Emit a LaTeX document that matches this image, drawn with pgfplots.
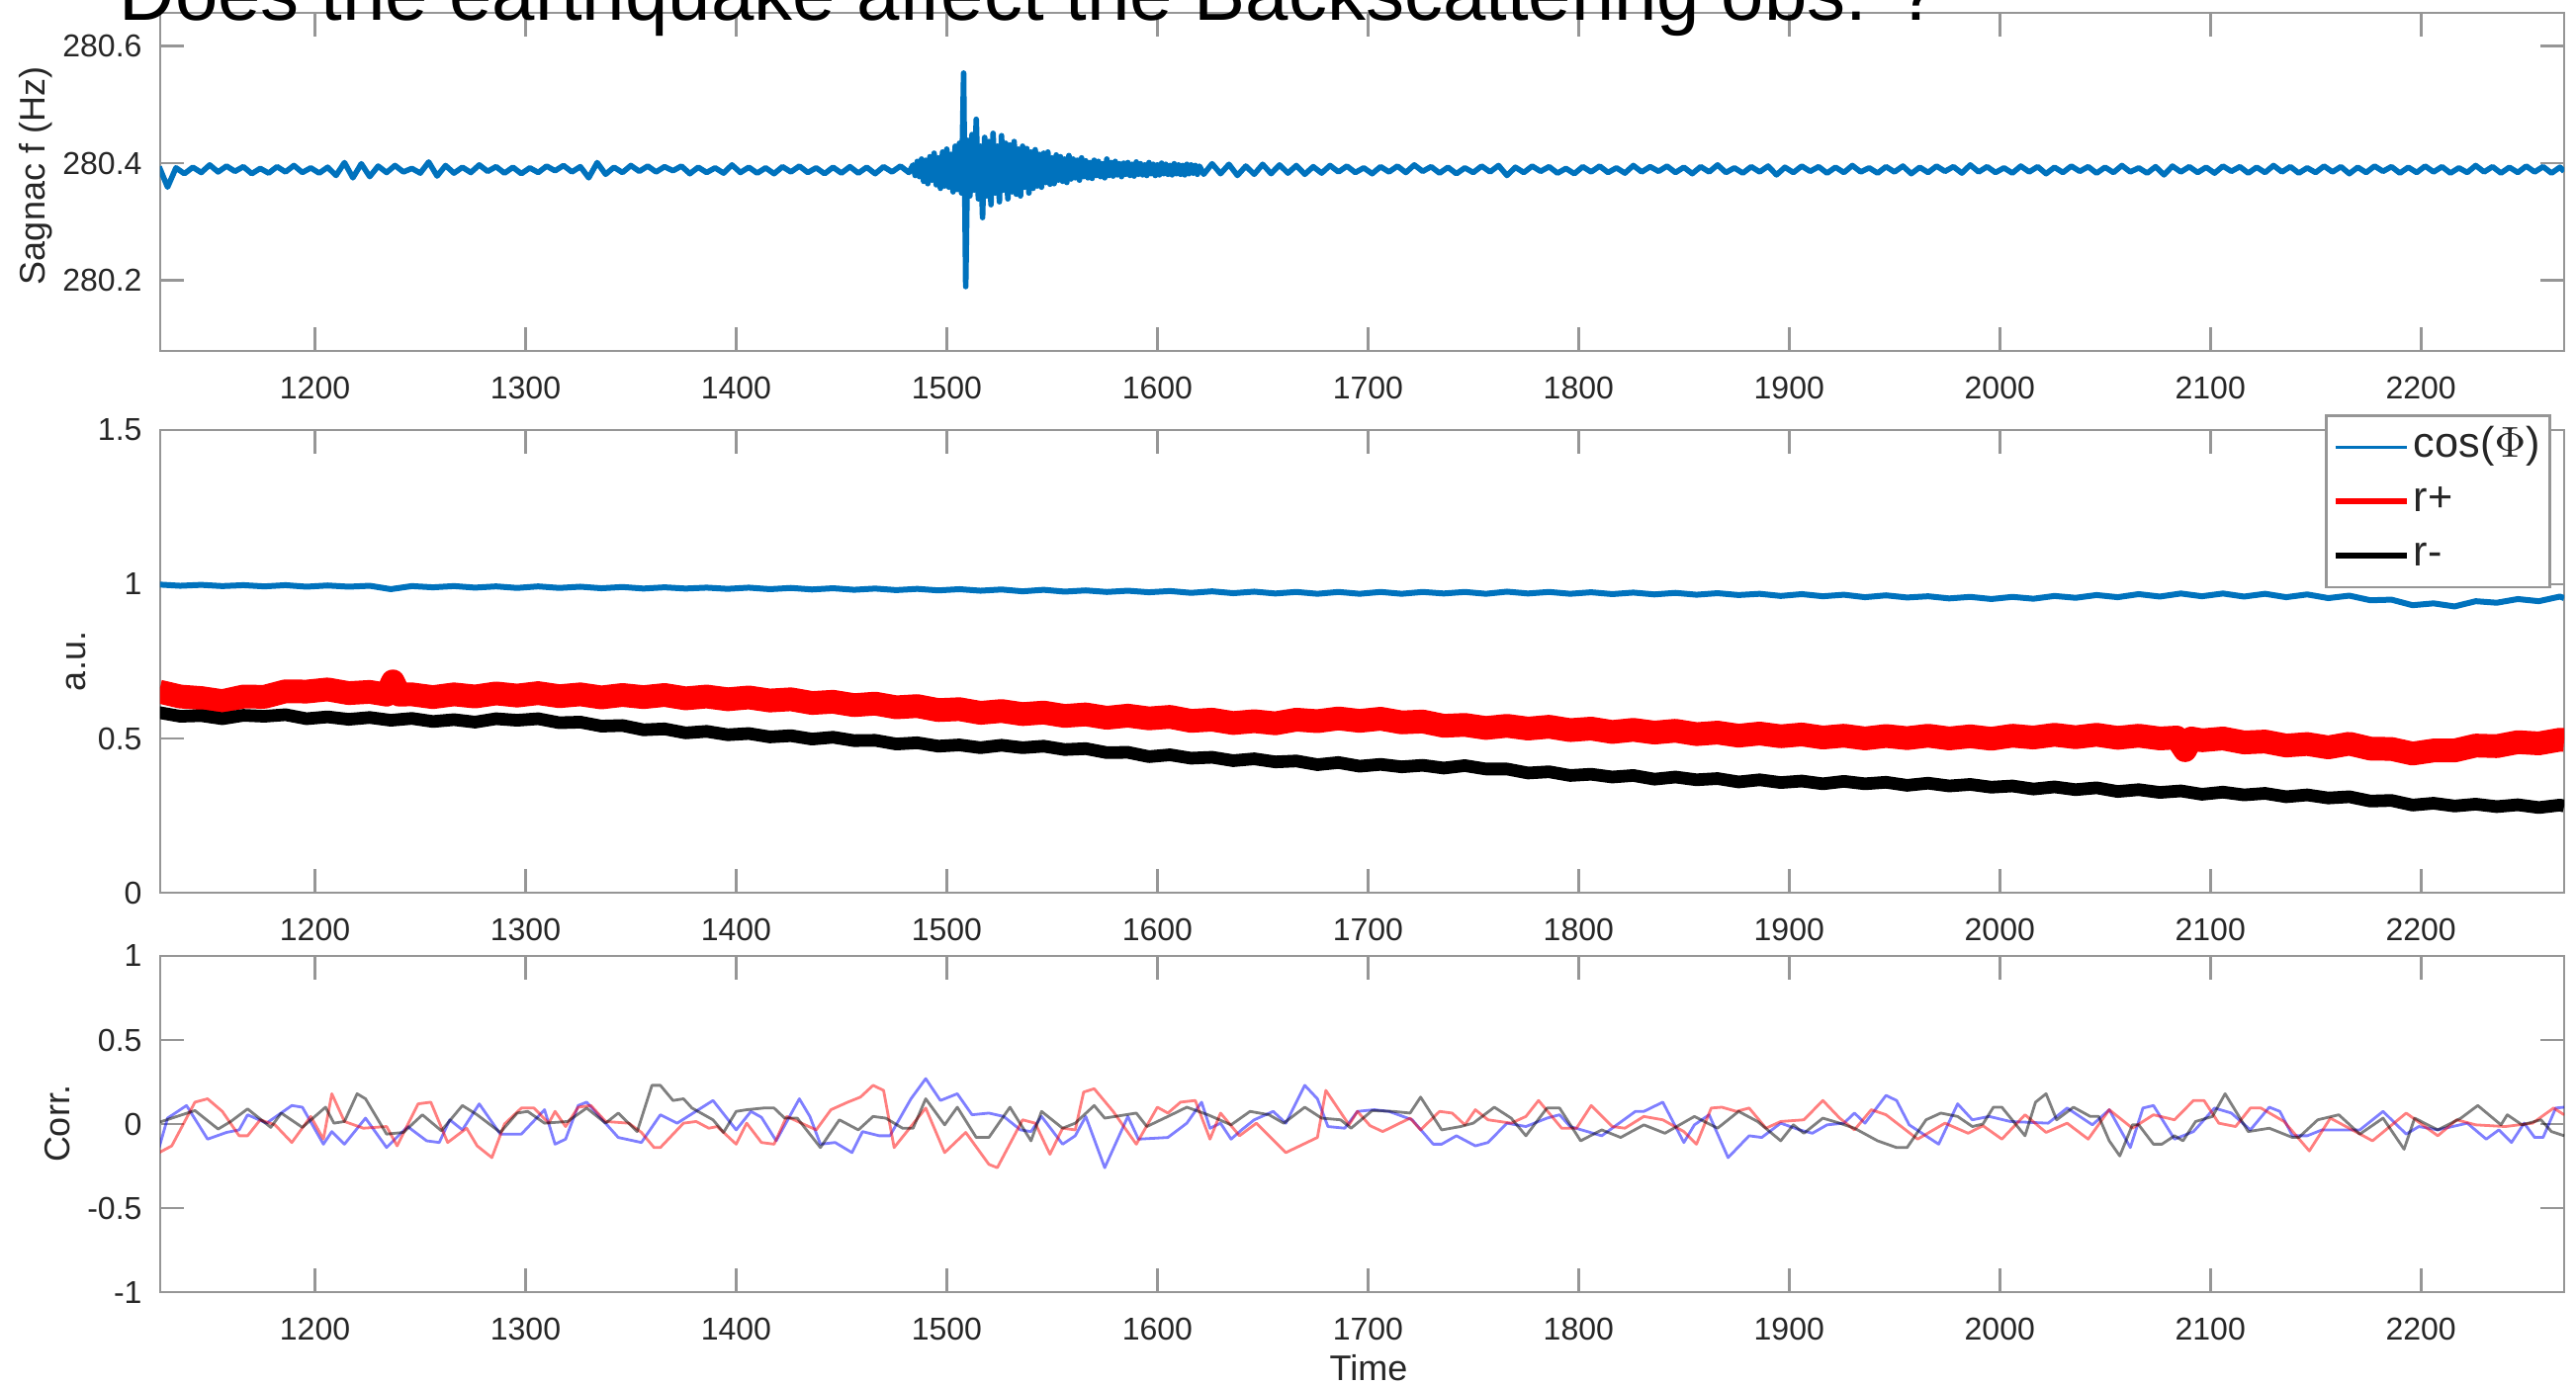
\documentclass[border=0pt]{standalone}
\usepackage{fontspec}
\setmainfont{Liberation Sans}
\usepackage{pgfplots}
\pgfplotsset{compat=1.18}
\definecolor{axgray}{RGB}{150,150,150}
\definecolor{txtgray}{RGB}{38,38,38}
\definecolor{mblue}{RGB}{0,114,189}
\pgfplotsset{
  mstyle/.style={
    scale only axis, width=607.75pt,
    xmin=1126.5, xmax=2268,
    xtick={1200,1300,1400,1500,1600,1700,1800,1900,2000,2100,2200},
    xticklabels={1200,1300,1400,1500,1600,1700,1800,1900,2000,2100,2200},
    axis line style={draw=axgray, line width=0.7pt},
    every tick/.append style={draw=axgray, line width=0.7pt},
    major tick length=6pt,
    tick align=inside,
    tick pos=both,
    tick label style={font=\fontsize{8}{9.6}\selectfont, text=txtgray},
    xticklabel style={yshift=-3pt},
    yticklabel style={xshift=-1.1pt},
    label style={font=\fontsize{9}{11}\selectfont, text=txtgray},
    /pgf/number format/assume math mode=true,
    /pgf/number format/set thousands separator={},
    every axis plot/.append style={line join=round},
  },
}
\begin{document}
\begin{tikzpicture}
% ---------------- top panel ----------------
\begin{axis}[mstyle, at={(40.5pt,261.75pt)}, anchor=south west, height=85.5pt,
  ymin=280.079, ymax=280.657,
  ytick={280.2,280.4,280.6}, yticklabels={280.2,280.4,280.6},
  ylabel={Sagnac f (Hz)},
  ylabel style={at={(axis description cs:-0.0518,0.5175)}, anchor=center}]
\addplot[mblue, line width=1.4pt] table {
1126 280.394
1130 280.359
1134 280.392
1138 280.382
1142 280.393
1146 280.384
1150 280.397
1154 280.385
1158 280.395
1162 280.386
1166 280.394
1170 280.382
1174 280.391
1178 280.383
1182 280.394
1186 280.385
1190 280.396
1194 280.384
1198 280.392
1202 280.383
1206 280.393
1210 280.379
1214 280.401
1218 280.375
1222 280.399
1226 280.377
1230 280.395
1234 280.384
1238 280.396
1242 280.385
1246 280.391
1250 280.383
1254 280.402
1258 280.378
1262 280.396
1266 280.383
1270 280.393
1274 280.384
1278 280.397
1282 280.386
1286 280.394
1290 280.383
1294 280.393
1298 280.382
1302 280.392
1306 280.384
1310 280.395
1314 280.387
1318 280.396
1322 280.385
1326 280.394
1330 280.375
1334 280.401
1338 280.381
1342 280.393
1346 280.384
1350 280.396
1354 280.386
1358 280.395
1362 280.385
1366 280.394
1370 280.387
1374 280.395
1378 280.382
1382 280.393
1386 280.384
1390 280.392
1394 280.383
1398 280.397
1402 280.384
1406 280.393
1410 280.383
1414 280.392
1418 280.382
1422 280.394
1426 280.385
1430 280.395
1434 280.384
1438 280.392
1442 280.382
1446 280.393
1450 280.383
1454 280.394
1458 280.383
1462 280.393
1466 280.382
1470 280.394
1474 280.385
1478 280.395
1482 280.384
1484 280.397
1485 280.379
1486 280.403
1487 280.377
1488 280.407
1489 280.369
1490 280.405
1491 280.365
1492 280.411
1493 280.371
1494 280.417
1495 280.363
1496 280.409
1497 280.357
1498 280.419
1499 280.361
1500 280.424
1501 280.359
1502 280.415
1503 280.351
1504 280.429
1505 280.355
1506 280.434
1507 280.349
1508 280.554
1509 280.189
1510 280.439
1511 280.344
1512 280.449
1513 280.354
1514 280.475
1515 280.339
1516 280.429
1517 280.307
1518 280.444
1519 280.344
1520 280.437
1521 280.329
1522 280.451
1523 280.349
1524 280.429
1525 280.334
1526 280.447
1527 280.354
1528 280.434
1529 280.339
1530 280.431
1531 280.351
1532 280.437
1533 280.347
1534 280.424
1535 280.344
1536 280.429
1537 280.359
1538 280.425
1539 280.349
1540 280.419
1541 280.357
1542 280.423
1543 280.361
1544 280.415
1545 280.359
1546 280.417
1547 280.367
1548 280.419
1549 280.364
1550 280.409
1551 280.365
1552 280.414
1553 280.371
1554 280.411
1555 280.369
1556 280.407
1557 280.367
1558 280.413
1559 280.373
1560 280.407
1561 280.375
1562 280.405
1563 280.371
1564 280.409
1565 280.377
1566 280.404
1567 280.375
1568 280.401
1569 280.374
1570 280.405
1571 280.379
1572 280.403
1573 280.377
1574 280.399
1575 280.375
1576 280.407
1577 280.379
1578 280.401
1579 280.378
1580 280.403
1581 280.380
1582 280.399
1583 280.377
1584 280.400
1585 280.381
1586 280.401
1587 280.379
1588 280.398
1589 280.378
1590 280.402
1591 280.381
1592 280.399
1593 280.380
1594 280.397
1595 280.379
1596 280.401
1597 280.382
1598 280.398
1599 280.379
1600 280.397
1601 280.380
1602 280.400
1603 280.382
1604 280.398
1605 280.381
1606 280.396
1607 280.380
1608 280.399
1609 280.382
1610 280.397
1611 280.381
1612 280.396
1613 280.380
1614 280.398
1615 280.382
1616 280.397
1617 280.383
1618 280.396
1619 280.381
1620 280.395
1622 280.381
1626 280.399
1630 280.382
1634 280.398
1638 280.379
1642 280.395
1646 280.381
1650 280.398
1654 280.382
1658 280.397
1662 280.383
1666 280.396
1670 280.381
1674 280.394
1678 280.383
1682 280.396
1686 280.385
1690 280.395
1694 280.384
1698 280.392
1702 280.382
1706 280.394
1710 280.385
1714 280.395
1718 280.384
1722 280.397
1726 280.386
1730 280.394
1734 280.383
1738 280.393
1742 280.382
1746 280.392
1750 280.384
1754 280.395
1758 280.385
1762 280.396
1766 280.379
1770 280.393
1774 280.384
1778 280.395
1782 280.386
1786 280.394
1790 280.383
1794 280.391
1798 280.382
1802 280.394
1806 280.385
1810 280.395
1814 280.384
1818 280.392
1822 280.383
1826 280.396
1830 280.385
1834 280.394
1838 280.386
1842 280.395
1846 280.384
1850 280.393
1854 280.382
1858 280.394
1862 280.385
1866 280.397
1870 280.384
1874 280.392
1878 280.383
1882 280.394
1886 280.385
1890 280.395
1894 280.380
1898 280.393
1902 280.384
1906 280.395
1910 280.386
1914 280.394
1918 280.383
1922 280.393
1926 280.384
1930 280.396
1934 280.385
1938 280.392
1942 280.383
1946 280.394
1950 280.385
1954 280.395
1958 280.382
1962 280.393
1966 280.384
1970 280.395
1974 280.386
1978 280.394
1982 280.383
1986 280.397
1990 280.385
1994 280.394
1998 280.384
2002 280.392
2006 280.383
2010 280.395
2014 280.385
2018 280.394
2022 280.382
2026 280.393
2030 280.384
2034 280.395
2038 280.386
2042 280.394
2046 280.383
2050 280.393
2054 280.384
2058 280.396
2062 280.385
2066 280.392
2070 280.383
2074 280.394
2078 280.380
2082 280.395
2086 280.385
2090 280.394
2094 280.384
2098 280.393
2102 280.383
2106 280.395
2110 280.386
2114 280.394
2118 280.383
2122 280.393
2126 280.384
2130 280.396
2134 280.385
2138 280.394
2142 280.383
2146 280.392
2150 280.384
2154 280.395
2158 280.385
2162 280.394
2166 280.382
2170 280.393
2174 280.384
2178 280.395
2182 280.386
2186 280.394
2190 280.383
2194 280.393
2198 280.384
2202 280.395
2206 280.385
2210 280.394
2214 280.383
2218 280.392
2222 280.384
2226 280.396
2230 280.385
2234 280.394
2238 280.383
2242 280.393
2246 280.384
2250 280.395
2254 280.385
2258 280.394
2262 280.383
2266 280.393
2268 280.386
};
\end{axis}
% ---------------- middle panel ----------------
\begin{axis}[mstyle, at={(40.5pt,124.75pt)}, anchor=south west, height=117pt,
  ymin=0, ymax=1.5,
  ytick={0,0.5,1,1.5}, yticklabels={0,0.5,1,1.5},
  ylabel={a.u.},
  ylabel style={at={(axis description cs:-0.035,0.5)}, anchor=center},
  legend image code/.code={\draw[#1] (0pt,0pt) -- (18pt,0pt);},
  legend cell align=left,
  legend style={at={(rel axis cs:0.9005,1.034)}, anchor=north west,
    draw=axgray, line width=0.7pt, fill=white, font=\fontsize{10.8}{13}\selectfont,
    text=txtgray, inner xsep=1.5pt, inner ysep=1.5pt, row sep=0.7pt,
    nodes={inner sep=1pt, text height=8pt, text depth=3pt}}]
\addlegendimage{mblue, line width=0.8pt}
\addlegendentry{cos($\Phi$)}
\addlegendimage{red, line width=1.6pt}
\addlegendentry{r+}
\addlegendimage{black, line width=1.6pt}
\addlegendentry{r-}
\addplot[mblue, line width=1.5pt, forget plot] coordinates {
(1126,0.999)(1136,0.995)(1146,0.998)(1156,0.994)(1166,0.997)(1176,0.993)(1186,0.997)(1196,0.992)(1206,0.996)(1216,0.992)(1226,0.995)(1236,0.984)(1246,0.994)(1256,0.990)(1266,0.994)(1276,0.989)(1286,0.993)(1296,0.988)(1306,0.993)(1316,0.988)(1326,0.992)(1336,0.987)(1346,0.991)(1356,0.986)(1366,0.990)(1376,0.986)(1386,0.989)(1396,0.985)(1406,0.989)(1416,0.984)(1426,0.988)(1436,0.983)(1446,0.987)(1456,0.982)(1466,0.986)(1476,0.981)(1486,0.985)(1496,0.980)(1506,0.984)(1516,0.979)(1526,0.983)(1536,0.977)(1546,0.982)(1556,0.976)(1566,0.980)(1576,0.975)(1586,0.979)(1596,0.974)(1606,0.978)(1616,0.972)(1626,0.977)(1636,0.971)(1646,0.976)(1656,0.970)(1666,0.975)(1676,0.969)(1686,0.975)(1696,0.969)(1706,0.975)(1716,0.969)(1726,0.975)(1736,0.970)(1746,0.975)(1756,0.969)(1766,0.976)(1776,0.970)(1786,0.975)(1796,0.969)(1806,0.974)(1816,0.968)(1826,0.973)(1836,0.967)(1846,0.972)(1856,0.966)(1866,0.971)(1876,0.965)(1886,0.969)(1896,0.962)(1906,0.968)(1916,0.961)(1926,0.966)(1936,0.958)(1946,0.964)(1956,0.957)(1966,0.961)(1976,0.954)(1986,0.959)(1996,0.952)(2006,0.959)(2016,0.953)(2026,0.962)(2036,0.956)(2046,0.965)(2056,0.958)(2066,0.968)(2076,0.960)(2086,0.970)(2096,0.961)(2106,0.970)(2116,0.960)(2126,0.969)(2136,0.958)(2146,0.967)(2156,0.955)(2166,0.963)(2176,0.948)(2186,0.950)(2196,0.932)(2206,0.938)(2216,0.928)(2226,0.945)(2236,0.940)(2246,0.952)(2256,0.945)(2266,0.960)(2268,0.955)
};
\addplot[red, line width=6pt, forget plot] coordinates {
(1126,0.652)(1136,0.636)(1146,0.631)(1156,0.621)(1166,0.636)(1176,0.635)(1186,0.653)(1196,0.652)(1206,0.659)(1216,0.647)(1226,0.651)(1234,0.642)(1237,0.685)(1240,0.642)(1246,0.643)(1256,0.634)(1266,0.643)(1276,0.636)(1286,0.646)(1296,0.639)(1306,0.647)(1316,0.637)(1326,0.643)(1336,0.633)(1346,0.641)(1356,0.634)(1366,0.641)(1376,0.630)(1386,0.636)(1396,0.627)(1406,0.633)(1416,0.623)(1426,0.627)(1436,0.615)(1446,0.619)(1456,0.608)(1466,0.613)(1476,0.601)(1486,0.605)(1496,0.592)(1506,0.595)(1516,0.583)(1526,0.589)(1536,0.579)(1546,0.584)(1556,0.573)(1566,0.578)(1576,0.567)(1586,0.574)(1596,0.565)(1606,0.570)(1616,0.557)(1626,0.561)(1636,0.550)(1646,0.556)(1656,0.549)(1666,0.561)(1676,0.556)(1686,0.565)(1696,0.557)(1706,0.564)(1716,0.552)(1726,0.555)(1736,0.541)(1746,0.544)(1756,0.534)(1766,0.541)(1776,0.532)(1786,0.538)(1796,0.527)(1806,0.532)(1816,0.521)(1826,0.528)(1836,0.519)(1846,0.525)(1856,0.514)(1866,0.519)(1876,0.509)(1886,0.516)(1896,0.507)(1906,0.513)(1916,0.503)(1926,0.509)(1936,0.500)(1946,0.508)(1956,0.501)(1966,0.509)(1976,0.500)(1986,0.507)(1996,0.499)(2006,0.509)(2016,0.503)(2026,0.512)(2036,0.504)(2046,0.512)(2056,0.502)(2066,0.509)(2076,0.500)(2084,0.503)(2088,0.462)(2091,0.500)(2096,0.494)(2106,0.500)(2116,0.487)(2126,0.490)(2136,0.477)(2146,0.482)(2156,0.471)(2166,0.483)(2176,0.467)(2186,0.466)(2196,0.451)(2206,0.461)(2216,0.461)(2226,0.477)(2236,0.475)(2246,0.488)(2256,0.484)(2266,0.496)(2268,0.495)
};
\addplot[black, line width=3.2pt, forget plot] coordinates {
(1126,0.584)(1136,0.572)(1146,0.574)(1156,0.564)(1166,0.575)(1176,0.572)(1186,0.577)(1196,0.564)(1206,0.570)(1216,0.562)(1226,0.568)(1236,0.559)(1246,0.565)(1256,0.555)(1266,0.561)(1276,0.553)(1286,0.564)(1296,0.559)(1306,0.564)(1316,0.551)(1326,0.553)(1336,0.540)(1346,0.542)(1356,0.528)(1366,0.531)(1376,0.518)(1386,0.523)(1396,0.512)(1406,0.516)(1416,0.505)(1426,0.509)(1436,0.498)(1446,0.504)(1456,0.493)(1466,0.494)(1476,0.482)(1486,0.486)(1496,0.475)(1506,0.479)(1516,0.470)(1526,0.478)(1536,0.470)(1546,0.475)(1556,0.464)(1566,0.467)(1576,0.454)(1586,0.455)(1596,0.441)(1606,0.447)(1616,0.436)(1626,0.439)(1636,0.428)(1646,0.434)(1656,0.424)(1666,0.427)(1676,0.415)(1686,0.422)(1696,0.410)(1706,0.416)(1716,0.408)(1726,0.413)(1736,0.404)(1746,0.412)(1756,0.401)(1766,0.401)(1776,0.388)(1786,0.392)(1796,0.380)(1806,0.384)(1816,0.375)(1826,0.380)(1836,0.368)(1846,0.375)(1856,0.366)(1866,0.370)(1876,0.359)(1886,0.366)(1896,0.357)(1906,0.362)(1916,0.353)(1926,0.361)(1936,0.353)(1946,0.358)(1956,0.348)(1966,0.355)(1976,0.346)(1986,0.351)(1996,0.342)(2006,0.346)(2016,0.336)(2026,0.343)(2036,0.334)(2046,0.340)(2056,0.328)(2066,0.334)(2076,0.325)(2086,0.330)(2096,0.319)(2106,0.326)(2116,0.317)(2126,0.322)(2136,0.311)(2146,0.317)(2156,0.307)(2166,0.311)(2176,0.297)(2186,0.299)(2196,0.284)(2206,0.290)(2216,0.281)(2226,0.287)(2236,0.279)(2246,0.285)(2256,0.276)(2266,0.284)(2268,0.281)
};
\end{axis}
% ---------------- bottom panel ----------------
\begin{axis}[mstyle, at={(40.5pt,23.75pt)}, anchor=south west, height=85pt,
  ymin=-1, ymax=1,
  ytick={-1,-0.5,0,0.5,1}, yticklabels={-1,-0.5,0,0.5,1},
  ylabel={Corr.},
  ylabel style={at={(axis description cs:-0.0428,0.5)}, anchor=center},
  xlabel={Time},
  xlabel style={at={(axis description cs:0.5027,0)}, anchor=center, yshift=-19.25pt}]
\addplot[blue, draw opacity=0.5, line width=0.7pt] coordinates {
(1126,-0.14)(1130,0.035)(1139,0.11)(1149,-0.09)(1158,-0.05)(1164,-0.035)(1168,0.055)(1177,0.005)(1189,0.11)(1194,0.10)(1204,-0.12)(1208,-0.045)(1214,-0.12)(1224,0.035)(1234,-0.14)(1244,-0.015)(1253,-0.1)(1259,-0.11)(1264,0.025)(1270,-0.035)(1278,0.12)(1288,-0.06)(1298,-0.06)(1309,0.085)(1314,-0.12)(1319,-0.09)(1325,0.11)(1329,0.13)(1344,-0.08)(1355,-0.11)(1364,0.055)(1372,0.005)(1389,0.14)(1400,-0.035)(1407,0.075)(1412,0.04)(1419,-0.1)(1430,0.15)(1435,0.045)(1440,-0.12)(1447,-0.11)(1455,-0.17)(1460,-0.045)(1468,-0.07)(1473,-0.07)(1483,0.15)(1490,0.27)(1497,0.14)(1505,0.18)(1512,0.055)(1520,0.065)(1527,0.045)(1535,-0.035)(1540,-0.045)(1545,0.045)(1555,-0.12)(1561,-0.07)(1566,0.045)(1575,-0.26)(1586,0.045)(1591,-0.09)(1605,-0.08)(1614,0.005)(1621,0.13)(1625,-0.025)(1630,0.005)(1635,-0.09)(1640,-0.035)(1646,0.025)(1655,0.075)(1661,0.005)(1670,0.23)(1676,0.15)(1681,-0.015)(1689,-0.025)(1695,0.075)(1703,0.085)(1710,0.075)(1721,0.025)(1731,-0.12)(1735,-0.12)(1742,-0.07)(1751,-0.13)(1757,-0.11)(1766,0.005)(1775,-0.015)(1785,0.035)(1791,0.055)(1796,-0.015)(1811,-0.07)(1827,0.075)(1831,0.075)(1840,0.13)(1850,-0.11)(1855,-0.005)(1862,0.055)(1871,-0.2)(1881,-0.07)(1887,-0.08)(1896,0.005)(1905,-0.035)(1911,-0.055)(1918,-0.005)(1926,0.005)(1931,0.065)(1936,0.005)(1946,0.17)(1951,0.14)(1957,-0.005)(1971,-0.12)(1980,0.12)(1987,0.025)(1995,0.045)(2005,0.015)(2023,0.005)(2032,0.095)(2044,-0.005)(2052,0.085)(2062,-0.14)(2068,0.095)(2073,0.11)(2083,-0.09)(2092,-0.045)(2102,0.095)(2110,0.065)(2119,-0.035)(2128,0.1)(2133,0.075)(2139,-0.07)(2146,-0.07)(2153,-0.035)(2171,-0.035)(2182,0.075)(2193,-0.06)(2199,-0.015)(2208,-0.035)(2222,0.005)(2231,-0.09)(2237,-0.035)(2243,-0.11)(2249,0.005)(2254,-0.08)(2258,-0.08)(2264,0.095)(2268,0.1)
};
\addplot[red, draw opacity=0.5, line width=0.7pt] coordinates {
(1126,-0.17)(1132,-0.13)(1143,0.13)(1149,0.15)(1156,0.075)(1164,-0.07)(1168,-0.07)(1174,0.025)(1181,-0.005)(1189,-0.11)(1198,0.045)(1204,-0.09)(1208,0.18)(1214,0.015)(1223,-0.025)(1234,-0.015)(1239,-0.13)(1249,0.12)(1255,0.13)(1263,-0.11)(1272,-0.025)(1277,-0.13)(1284,-0.2)(1290,0.0)(1298,0.095)(1304,0.095)(1311,0.005)(1314,0.075)(1319,-0.015)(1325,0.1)(1331,0.11)(1338,0.015)(1349,0.005)(1355,-0.05)(1361,-0.14)(1364,-0.14)(1375,0.005)(1381,0.015)(1387,-0.025)(1391,-0.015)(1400,-0.12)(1405,0.005)(1412,-0.11)(1418,-0.12)(1424,0.045)(1431,0.005)(1438,-0.035)(1445,0.085)(1453,0.13)(1459,0.16)(1465,0.23)(1470,0.2)(1475,-0.14)(1490,0.095)(1499,-0.17)(1509,-0.05)(1520,-0.24)(1524,-0.26)(1536,0.025)(1542,0.005)(1549,-0.18)(1555,-0.025)(1561,-0.035)(1565,0.19)(1570,0.21)(1579,0.075)(1590,-0.12)(1600,0.1)(1605,0.065)(1611,0.13)(1618,0.14)(1625,-0.09)(1630,0.065)(1639,-0.07)(1647,0.005)(1661,-0.17)(1676,-0.08)(1680,0.2)(1691,-0.005)(1695,0.075)(1701,-0.01)(1707,-0.045)(1720,0.035)(1725,-0.035)(1734,0.075)(1740,0.065)(1746,-0.005)(1751,0.085)(1757,0.025)(1768,0.005)(1775,0.045)(1781,0.14)(1792,-0.025)(1799,-0.025)(1806,0.11)(1816,-0.015)(1822,-0.025)(1831,0.045)(1840,0.025)(1850,-0.045)(1856,-0.12)(1863,0.095)(1868,0.1)(1875,0.075)(1881,0.095)(1889,-0.025)(1896,0.015)(1907,0.025)(1916,0.14)(1924,0.035)(1931,-0.035)(1939,0.085)(1946,0.055)(1961,-0.09)(1974,0.005)(1985,-0.055)(1992,-0.01)(2001,-0.09)(2012,0.055)(2022,-0.05)(2032,0.005)(2042,-0.09)(2052,0.085)(2063,-0.025)(2073,0.055)(2083,0.025)(2092,0.14)(2097,0.14)(2104,0.005)(2112,-0.015)(2119,0.095)(2124,0.095)(2135,0.015)(2147,-0.16)(2157,0.035)(2177,-0.1)(2193,0.065)(2208,-0.07)(2217,0.025)(2226,-0.005)(2240,-0.015)(2253,0.005)(2263,0.095)(2268,0.055)
};
\addplot[black, draw opacity=0.5, line width=0.7pt] coordinates {
(1126,0.01)(1132,0.035)(1143,0.08)(1154,-0.03)(1160,0.015)(1168,0.09)(1179,-0.02)(1184,0.065)(1194,-0.02)(1205,0.10)(1209,0.005)(1214,0.015)(1220,0.18)(1224,0.15)(1234,-0.06)(1242,-0.05)(1251,0.055)(1260,-0.04)(1270,0.11)(1277,0.055)(1288,-0.05)(1296,0.065)(1301,0.075)(1309,0.005)(1320,0.015)(1329,0.095)(1338,0.005)(1344,0.065)(1353,-0.045)(1360,0.23)(1364,0.23)(1370,0.14)(1375,0.15)(1379,0.095)(1389,0.025)(1394,-0.05)(1400,0.075)(1405,0.085)(1413,0.095)(1418,0.095)(1423,0.035)(1429,0.035)(1440,-0.14)(1449,0.025)(1458,-0.035)(1465,0.045)(1471,0.035)(1479,-0.025)(1484,-0.025)(1490,0.15)(1499,-0.005)(1505,0.1)(1514,-0.08)(1520,-0.08)(1530,0.1)(1540,-0.1)(1545,0.075)(1555,-0.025)(1561,0.005)(1570,0.11)(1575,0.035)(1590,0.065)(1595,-0.015)(1605,0.045)(1614,0.1)(1624,0.055)(1635,-0.005)(1644,0.075)(1653,0.055)(1660,0.005)(1670,0.1)(1678,0.035)(1687,0.025)(1692,-0.025)(1702,0.08)(1712,0.075)(1720,0.065)(1725,0.16)(1735,-0.035)(1744,-0.015)(1750,0.005)(1760,0.1)(1768,0.035)(1775,-0.07)(1785,0.095)(1791,0.095)(1801,-0.1)(1811,-0.035)(1820,-0.08)(1831,-0.005)(1841,-0.055)(1855,0.045)(1866,-0.025)(1876,0.075)(1885,0.015)(1896,-0.1)(1902,-0.005)(1907,-0.055)(1916,0.035)(1924,0.005)(1931,-0.025)(1942,-0.1)(1951,-0.14)(1956,-0.14)(1965,0.025)(1972,0.065)(1980,0.045)(1987,-0.015)(1992,0.0)(1997,0.1)(2001,0.1)(2012,-0.07)(2017,0.13)(2022,0.18)(2027,0.025)(2035,0.1)(2043,0.045)(2047,0.045)(2052,-0.1)(2057,-0.19)(2063,-0.005)(2066,-0.005)(2073,-0.12)(2077,-0.12)(2083,-0.07)(2087,-0.1)(2093,0.015)(2101,0.045)(2107,0.18)(2118,-0.045)(2128,-0.025)(2139,-0.08)(2142,-0.08)(2151,0.025)(2161,0.055)(2171,-0.06)(2182,0.035)(2192,-0.15)(2197,0.035)(2208,-0.035)(2219,0.035)(2227,0.11)(2238,-0.005)(2241,0.055)(2248,-0.005)(2257,0.025)(2262,-0.045)(2268,-0.07)
};
\end{axis}
% ---------------- title (cut at the top edge, as in the reference) ----------------
\node[anchor=base west, inner sep=0pt, font=\fontsize{19.5}{23}\selectfont] at (30pt,345.3pt)
  {Does the earthquake affect the Backscattering obs. ?};
\pgfresetboundingbox
\path[use as bounding box] (0,0) rectangle (651.25pt,350.5pt);
\end{tikzpicture}
\end{document}
